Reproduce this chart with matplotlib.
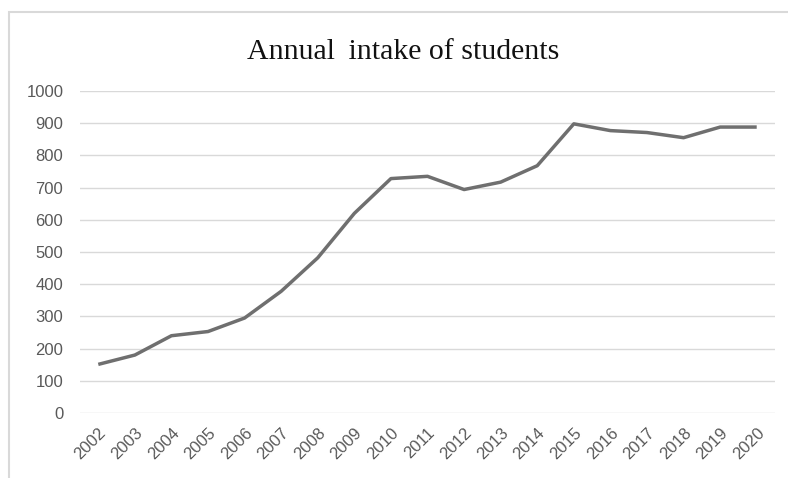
import matplotlib
matplotlib.use("Agg")
import matplotlib.pyplot as plt
from matplotlib.patches import Rectangle

years = [str(y) for y in range(2002, 2021)]
intake = [151, 180, 240, 253, 295, 378, 482, 620, 728, 735,
          694, 717, 768, 898, 877, 871, 855, 888, 888]
y_ticks = list(range(0, 1001, 100))

W, H = 788, 478
fig = plt.figure(figsize=(W / 100, H / 100), dpi=100)
ax = fig.add_axes([80 / W, 1 - 413 / H, 695 / W, 322 / H])

ax.plot(range(len(years)), intake, color="#6f6f6f", linewidth=2.5,
        solid_capstyle="butt", solid_joinstyle="round")

ax.set_xlim(-0.5, len(years) - 0.5)
ax.set_ylim(0, 1000)
ax.set_yticks(y_ticks)
ax.set_yticklabels([str(v) for v in y_ticks])
ax.set_xticks(range(len(years)))
ax.set_xticklabels(years, rotation=45, ha="right", rotation_mode="anchor")

ax.grid(axis="y", color="#d9d9d9", linewidth=1)
ax.set_axisbelow(True)
for s in ax.spines.values():
    s.set_visible(False)
ax.tick_params(length=0, labelsize=12, labelcolor="#595959",
               labelfontfamily="Liberation Sans")
ax.tick_params(axis="y", pad=12)
ax.tick_params(axis="x", pad=9)

fig.text(403 / W, 1 - 59 / H, "Annual \u2009intake of students", fontsize=21.5,
         family="Liberation Serif", color="#111111", ha="center",
         va="baseline")

# chart frame, running off the right and bottom edges
fig.add_artist(Rectangle((9 / W, -0.1), 1.0, 1 - 12 / H + 0.1,
                         transform=fig.transFigure, fill=False,
                         edgecolor="#d9d9d9", linewidth=1.5))

fig.savefig("out.png", dpi=100)
